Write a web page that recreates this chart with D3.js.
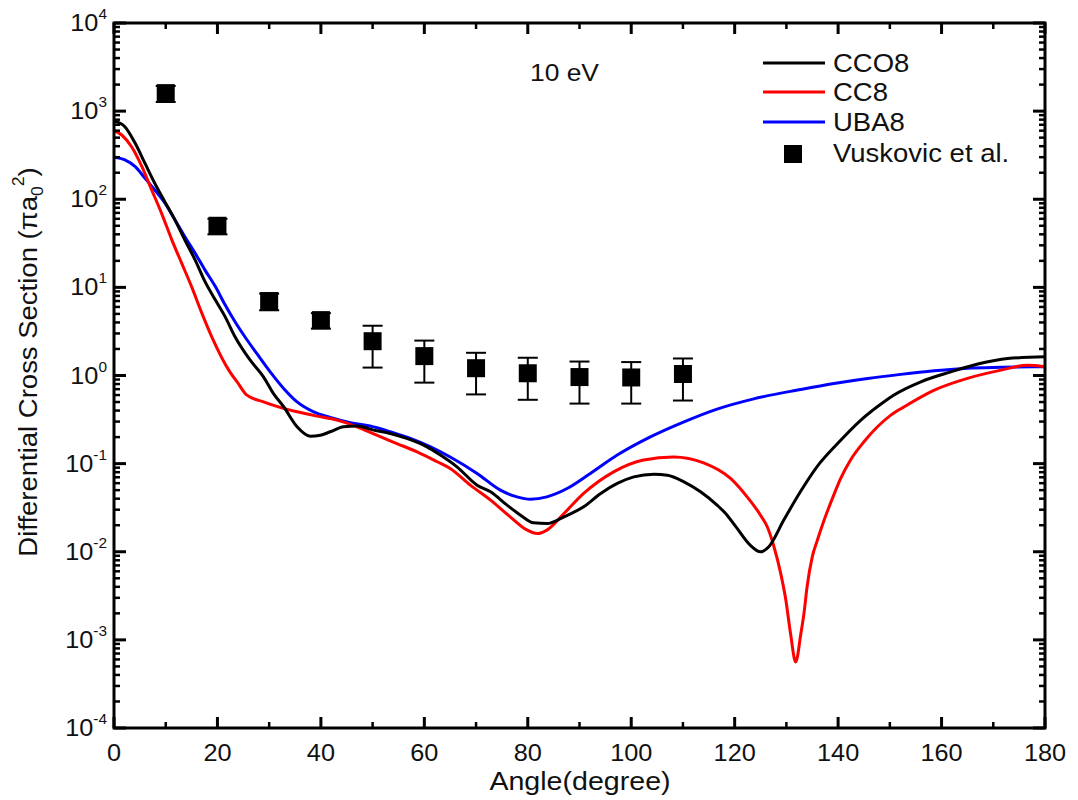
<!DOCTYPE html>
<html>
<head>
<meta charset="utf-8">
<script src="https://cdn.jsdelivr.net/npm/d3@7"></script>
<style>
  html, body { margin: 0; padding: 0; background: #fff; }
  svg { display: block; font-family: "Liberation Sans", Arial, sans-serif; }
</style>
</head>
<body>
<svg id="chart" width="1078" height="800"></svg>
<script>
// Differential cross sections at 10 eV (units of pi*a0^2) versus scattering angle (degrees)

// CCO8
const ccoAngle = [0, 2.1, 4.1, 6.0, 7.9, 9.9, 11.8, 13.7, 15.7, 17.6, 19.6, 21.5, 23.4, 26.3, 28.9, 30.8, 32.8, 35.4, 37.9, 39.9, 41.8, 44.4, 47.0, 50.2, 53.4, 56.6, 60.5, 63.1, 66.3, 70.2, 72.8, 76.0, 78.6, 81.1, 83.7, 87.0, 90.8, 94.1, 97.3, 100.5, 104.4, 107.0, 110.2, 113.4, 116.6, 118.3, 120.3, 123.0, 125.0, 126.6, 129.5, 132.7, 135.9, 139.9, 144.4, 148.9, 150.8, 156.0, 161.8, 167.0, 172.8, 180];
const ccoDcs = [773, 665, 431, 255, 151, 92, 58, 34.4, 20.4, 11.6, 7.18, 4.63, 2.75, 1.50, 0.966, 0.627, 0.442, 0.262, 0.205, 0.210, 0.230, 0.262, 0.267, 0.240, 0.220, 0.193, 0.155, 0.125, 0.0920, 0.0570, 0.0479, 0.0338, 0.0260, 0.0213, 0.0209, 0.0249, 0.0324, 0.0459, 0.0596, 0.0708, 0.0760, 0.0740, 0.0621, 0.0479, 0.0338, 0.0270, 0.0190, 0.0119, 0.00998, 0.0114, 0.0229, 0.0479, 0.0920, 0.169, 0.312, 0.504, 0.600, 0.847, 1.10, 1.35, 1.56, 1.63];

// CC8
const ccAngle = [0, 1.5, 3.4, 5.4, 7.3, 9.2, 11.2, 13.1, 15.0, 17.0, 18.9, 22.4, 23.8, 25.7, 28.9, 32.1, 35.4, 39.2, 43.1, 47.0, 50.8, 54.7, 58.6, 62.5, 65.0, 68.9, 72.8, 76.6, 79.9, 81.8, 83.7, 87.0, 90.8, 96.6, 102.4, 108.2, 114.0, 119.2, 122.4, 125.0, 126.3, 127.6, 128.9, 129.9, 130.8, 131.8, 132.8, 133.4, 134.0, 135.0, 136.0, 137.3, 138.9, 140.5, 142.4, 145.0, 150.2, 152.8, 158.6, 165.0, 171.5, 176.6, 180];
const ccDcs = [603, 536, 394, 234, 127, 69.2, 34.4, 18.7, 10.2, 5.07, 2.75, 1.10, 0.847, 0.598, 0.502, 0.435, 0.387, 0.346, 0.312, 0.262, 0.210, 0.169, 0.136, 0.105, 0.0881, 0.0570, 0.0385, 0.0249, 0.0176, 0.0161, 0.0176, 0.0272, 0.0459, 0.0807, 0.110, 0.119, 0.102, 0.0679, 0.0420, 0.0260, 0.0192, 0.0114, 0.00568, 0.00282, 0.00118, 0.000562, 0.00118, 0.00200, 0.00400, 0.00875, 0.0136, 0.0229, 0.0403, 0.0679, 0.110, 0.177, 0.355, 0.442, 0.682, 0.927, 1.15, 1.31, 1.26];

// UBA8
const ubaAngle = [0, 2.1, 4.1, 6.0, 7.9, 9.9, 11.8, 13.7, 15.7, 17.6, 19.6, 21.5, 23.4, 25.4, 27.6, 30.2, 32.8, 35.4, 38.6, 41.8, 45.7, 49.5, 53.4, 57.3, 61.2, 65.0, 70.2, 74.7, 77.9, 80.5, 83.7, 87.6, 92.1, 97.3, 103.7, 110.2, 116.6, 123.5, 132.8, 139.2, 145.7, 152.1, 158.6, 165.0, 171.5, 180];
const ubaDcs = [299, 279, 234, 173, 127, 89.7, 58.1, 37.5, 24.3, 15.7, 10.2, 6.30, 4.07, 2.70, 1.78, 1.10, 0.714, 0.502, 0.387, 0.334, 0.292, 0.267, 0.230, 0.193, 0.155, 0.119, 0.0774, 0.0500, 0.0420, 0.0395, 0.0420, 0.0522, 0.0774, 0.125, 0.201, 0.298, 0.416, 0.540, 0.695, 0.813, 0.927, 1.03, 1.13, 1.21, 1.24, 1.26];

// Vuskovic et al. measurements with symmetric uncertainties
const expAngle = [10, 20, 30, 40, 50, 60, 70, 80, 90, 100, 110];
const expDcs = [1600, 50, 7.0, 4.25, 2.45, 1.66, 1.21, 1.06, 0.96, 0.95, 1.04];
const expErr = [330, 10, 1.5, 0.85, 1.22, 0.83, 0.60, 0.53, 0.48, 0.47, 0.52];

// Axis ticks
const xMajorTicks = [0, 20, 40, 60, 80, 100, 120, 140, 160, 180];
const xMinorTicks = [10, 30, 50, 70, 90, 110, 130, 150, 170];
const yExponents = [-4, -3, -2, -1, 0, 1, 2, 3, 4];

const seriesNames = ["CCO8", "CC8", "UBA8"];
const seriesColors = ["#000000", "#ff0000", "#0000ff"];

const svg = d3.select("#chart");
const plot = { left: 114, right: 1045, top: 23, bottom: 728 };
const stretch = 1.1; // glyphs are drawn slightly wide

const x = d3.scaleLinear().domain([0, 180]).range([plot.left, plot.right]);
const y = d3.scaleLog().domain([1e-4, 1e4]).range([plot.bottom, plot.top]);

// text placed at (tx, ty) and widened horizontally
function addText(parent, tx, ty, size, anchor) {
  return parent.append("text")
    .attr("transform", `translate(${tx},${ty}) scale(${stretch},1)`)
    .attr("text-anchor", anchor || "start")
    .attr("font-size", size)
    .attr("fill", "#111");
}

svg.append("defs").append("clipPath").attr("id", "plotClip")
  .append("rect")
  .attr("x", plot.left).attr("y", plot.top)
  .attr("width", plot.right - plot.left).attr("height", plot.bottom - plot.top);

// Theory curves
const curves = [
  { angle: ccoAngle, dcs: ccoDcs },
  { angle: ccAngle, dcs: ccDcs },
  { angle: ubaAngle, dcs: ubaDcs }
];
const line = d3.line()
  .x(d => x(d[0]))
  .y(d => y(d[1]))
  .curve(d3.curveMonotoneX);

const curveLayer = svg.append("g").attr("clip-path", "url(#plotClip)");
// blue first, then red, then black on top
[2, 1, 0].forEach(i => {
  const c = curves[i];
  curveLayer.append("path")
    .datum(c.angle.map((a, k) => [a, c.dcs[k]]))
    .attr("fill", "none")
    .attr("stroke", seriesColors[i])
    .attr("stroke-width", 3)
    .attr("stroke-linejoin", "round")
    .attr("d", line);
});

// Experimental points
const expData = expAngle.map((a, k) => ({ a, v: expDcs[k], e: expErr[k] }));
const expG = svg.append("g").selectAll("g").data(expData).join("g");
expG.append("line")
  .attr("x1", d => x(d.a)).attr("x2", d => x(d.a))
  .attr("y1", d => y(d.v + d.e)).attr("y2", d => y(d.v - d.e))
  .attr("stroke", "#000").attr("stroke-width", 2);
[1, -1].forEach(s => {
  expG.append("line")
    .attr("x1", d => x(d.a) - 10).attr("x2", d => x(d.a) + 10)
    .attr("y1", d => y(d.v + s * d.e))
    .attr("y2", d => y(d.v + s * d.e))
    .attr("stroke", "#000").attr("stroke-width", 2);
});
expG.append("rect")
  .attr("x", d => x(d.a) - 9).attr("y", d => y(d.v) - 9)
  .attr("width", 18).attr("height", 18)
  .attr("fill", "#000");

// Axes: mirrored on all four sides with inward ticks
const axisG = svg.append("g");
function xTicks(yPos, dir) {
  xMajorTicks.forEach(t => {
    axisG.append("line").attr("x1", x(t)).attr("x2", x(t))
      .attr("y1", yPos).attr("y2", yPos + dir * 11)
      .attr("stroke", "#000").attr("stroke-width", 3);
  });
  xMinorTicks.forEach(t => {
    axisG.append("line").attr("x1", x(t)).attr("x2", x(t))
      .attr("y1", yPos).attr("y2", yPos + dir * 6)
      .attr("stroke", "#000").attr("stroke-width", 2.5);
  });
}
function yTicks(xPos, dir) {
  yExponents.forEach(e => {
    const v = Math.pow(10, e);
    axisG.append("line").attr("x1", xPos).attr("x2", xPos + dir * 12)
      .attr("y1", y(v)).attr("y2", y(v))
      .attr("stroke", "#000").attr("stroke-width", 3);
    if (e < 4) {
      for (let m = 2; m <= 9; m++) {
        axisG.append("line").attr("x1", xPos).attr("x2", xPos + dir * 6)
          .attr("y1", y(m * v)).attr("y2", y(m * v))
          .attr("stroke", "#000").attr("stroke-width", 2.5);
      }
    }
  });
}
xTicks(plot.bottom, -1);
xTicks(plot.top, 1);
yTicks(plot.left, 1);
yTicks(plot.right, -1);

axisG.append("rect")
  .attr("x", plot.left).attr("y", plot.top)
  .attr("width", plot.right - plot.left).attr("height", plot.bottom - plot.top)
  .attr("fill", "none").attr("stroke", "#000").attr("stroke-width", 3);

// Tick labels
const labelG = svg.append("g");
xMajorTicks.forEach(t => {
  addText(labelG, x(t), 761, 23, "middle").text(t);
});
yExponents.forEach(e => {
  const tx = addText(labelG, 107, y(Math.pow(10, e)) + 8, 23, "end");
  tx.append("tspan").text("10");
  tx.append("tspan").attr("font-size", 14).attr("dy", -12).text(e);
});

// Axis titles
addText(svg, 580, 790, 26, "middle").text("Angle(degree)");

const yTitle = svg.append("text")
  .attr("transform", `translate(37,362) rotate(-90) scale(${stretch},1)`)
  .attr("text-anchor", "middle")
  .attr("font-size", 25)
  .attr("fill", "#111");
yTitle.append("tspan").text("Differential Cross Section (\u03C0a");
yTitle.append("tspan").attr("font-size", 16).attr("dy", 6).text("0");
yTitle.append("tspan").attr("font-size", 16).attr("dy", -19).text("2");
yTitle.append("tspan").attr("dy", 13).text(")");

// Energy annotation
addText(svg, 530, 81, 24).text("10 eV");

// Legend
const legend = svg.append("g");
const legendY = [63, 92, 122];
seriesNames.forEach((name, i) => {
  legend.append("line")
    .attr("x1", 763).attr("x2", 825)
    .attr("y1", legendY[i]).attr("y2", legendY[i])
    .attr("stroke", seriesColors[i]).attr("stroke-width", 3);
  addText(legend, 833, legendY[i] + 9, 25).text(name);
});
legend.append("rect")
  .attr("x", 784).attr("y", 145).attr("width", 18).attr("height", 18)
  .attr("fill", "#000");
addText(legend, 833, 162, 25).text("Vuskovic et al.");
</script>
</body>
</html>
